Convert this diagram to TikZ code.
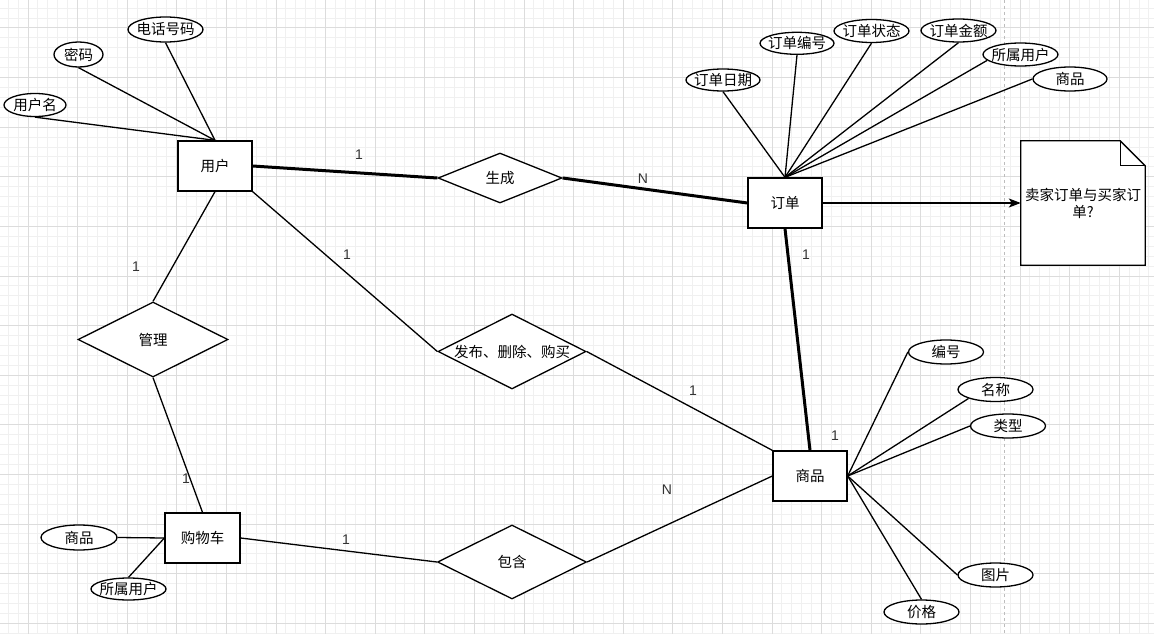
\documentclass[tikz,border=0pt]{standalone}
\usepackage{fontspec}
\setmainfont{Noto Sans CJK SC}
\newfontfamily\latinfont{Liberation Sans}
\usetikzlibrary{shapes.geometric,arrows.meta}
\definecolor{gridminor}{HTML}{F0F0F0}
\definecolor{gridmajor}{HTML}{DCDCDC}
\definecolor{pageline}{HTML}{BDBDBD}
\definecolor{lbl}{HTML}{333333}
\newcommand{\cnsize}{\fontsize{14.5pt}{17pt}\selectfont}
\begin{document}
\begin{tikzpicture}[x=1pt,y=-1pt,
  every label/.style={font=\cnsize, inner sep=0pt, text=black},
  entity/.style={draw=black, line width=1.3pt, fill=white, minimum width=74pt, minimum height=50pt, inner sep=0pt, font=\cnsize},
  attr/.style={ellipse, draw=black, line width=1.3pt, fill=white, minimum width=75pt, minimum height=24pt, inner sep=0pt},
  rel/.style={diamond, draw=black, line width=1.3pt, fill=white, inner sep=0pt},
  lnk/.style={line width=1.3pt, draw=black},
  tlnk/.style={line width=3pt, draw=black},
  card/.style={font=\latinfont\fontsize{14pt}{16pt}\selectfont, text=lbl, inner sep=0pt},
  notebox/.style={minimum width=124pt, minimum height=124pt, inner sep=0pt},
  notetext/.style={font=\cnsize, align=center, inner sep=0pt}
]
% background and bounding box
\useasboundingbox (0,0) rectangle (1154,634);
\fill[white] (0,0) rectangle (1154,634);
\foreach \i in {-2,...,113} \draw[gridminor, line width=1pt] ({28+9.92*\i},0) -- ({28+9.92*\i},634);
\foreach \i in {-2,...,61} \draw[gridminor, line width=1pt] (0,{28+9.92*\i}) -- (1154,{28+9.92*\i});
\foreach \i in {0,...,22} \draw[gridmajor, line width=1pt] ({28+49.6*\i},0) -- ({28+49.6*\i},634);
\foreach \i in {0,...,12} \draw[gridmajor, line width=1pt] (0,{28+49.6*\i}) -- (1154,{28+49.6*\i});
\draw[pageline, line width=1pt, dash pattern=on 3pt off 3pt] (1004,0) -- (1004,634);

% entities
\node[entity] (yh) at (215,166) {用户};
\node[entity] (dd) at (785,203) {订单};
\node[entity] (sp) at (810,476) {商品};
\node[entity, minimum width=75pt] (gwc) at (202.5,538) {购物车};

% relationships
\node[rel, minimum width=124pt, minimum height=50pt, label=center:生成] (sc) at (500,178) {};
\node[rel, minimum width=148pt, minimum height=75pt, label=center:发布、删除、购买] (fb) at (512,351.5) {};
\node[rel, minimum width=150pt, minimum height=75pt, label=center:管理] (gl) at (153,339.5) {};
\node[rel, minimum width=149pt, minimum height=74pt, label=center:包含] (bh) at (512,562) {};

% user attributes
\node[attr, minimum width=75pt, minimum height=25pt, label=center:电话号码] (u3) at (165.5,29.5) {};
\node[attr, minimum width=49pt, minimum height=25pt, label=center:密码] (u2) at (78.5,54.5) {};
\node[attr, minimum width=62pt, minimum height=23pt, label=center:用户名] (u1) at (35,105) {};

% order attributes
\node[attr, minimum width=74pt, minimum height=22pt, label=center:订单日期] (o1) at (723,80) {};
\node[attr, minimum width=74pt, minimum height=22pt, label=center:订单编号] (o2) at (797,43.3) {};
\node[attr, minimum width=75pt, minimum height=23pt, label=center:订单状态] (o3) at (871.5,31) {};
\node[attr, minimum width=75pt, minimum height=23pt, label=center:订单金额] (o4) at (958.5,30.5) {};
\node[attr, minimum width=75pt, minimum height=23pt, label=center:所属用户] (o5) at (1020.5,54.5) {};
\node[attr, minimum width=74pt, minimum height=24pt, label=center:商品] (o6) at (1070,79) {};

% product attributes
\node[attr, label=center:编号] (p1) at (946,352) {};
\node[attr, label=center:名称] (p2) at (995.5,389.5) {};
\node[attr, label=center:类型] (p3) at (1008,426) {};
\node[attr, label=center:图片] (p4) at (995.5,575) {};
\node[attr, label=center:价格] (p5) at (921.5,612) {};

% cart attributes
\node[attr, minimum width=76pt, minimum height=25pt, label=center:商品] (g1) at (79,537.5) {};
\node[attr, minimum width=75pt, minimum height=22pt, label=center:所属用户] (g2) at (128.5,589) {};

% note
\node[notebox] (note) at (1083,203) {};
\filldraw[fill=white, draw=black, line width=1.3pt, line join=miter]
  (note.north west) -- ([xshift=-25pt]note.north east) -- ([yshift=-25pt]note.north east)
  -- (note.south east) -- (note.south west) -- cycle;
\draw[line width=1.3pt, line join=miter] ([xshift=-25pt]note.north east) -- ([xshift=-25pt,yshift=-25pt]note.north east) -- ([yshift=-25pt]note.north east);
\node[notetext] (nt) at (note.center) {卖家订单与买家订\\单?};

% attribute connectors
\draw[lnk] (u1.south) -- (yh.north);
\draw[lnk] (u2.south) -- (yh.north);
\draw[lnk] (u3.south) -- (yh.north);
\draw[lnk] (o1.south) -- (dd.north);
\draw[lnk] (o2.south) -- (dd.north);
\draw[lnk] (o3.south) -- (dd.north);
\draw[lnk] (o4.south) -- (dd.north);
\draw[lnk] (o5.190) -- (dd.north);
\draw[lnk] (o6.west) -- (dd.north);
\draw[lnk] (p1.west) -- (sp.east);
\draw[lnk] (p2.south west) -- (sp.east);
\draw[lnk] (p3.west) -- (sp.east);
\draw[lnk] (p4.west) -- (sp.east);
\draw[lnk] (p5.north) -- (sp.east);
\draw[lnk] (g1.east) -- (gwc.west);
\draw[lnk] (g2.north) -- (gwc.west);

% relationship connectors
\draw[tlnk] (yh.east) -- (sc.west);
\draw[tlnk] (sc.east) -- (dd.west);
\draw[tlnk] (dd.south) -- (sp.north);
\draw[lnk, -{Stealth[length=12pt, width=9pt, inset=3pt]}] (dd.east) -- (note.west);
\draw[lnk] (yh.south east) -- (fb.west);
\draw[lnk] (fb.east) -- (sp.north west);
\draw[lnk] (yh.south) -- (gl.north);
\draw[lnk] (gl.south) -- (gwc.north);
\draw[lnk] (gwc.east) -- (bh.west);
\draw[lnk] (bh.east) -- (sp.west);

% cardinalities
\node[card] (c1) at (359,155) {1};
\node[card] (c2) at (643,179) {N};
\node[card] (c3) at (806,255) {1};
\node[card] (c4) at (835,436) {1};
\node[card] (c5) at (347,255) {1};
\node[card] (c6) at (693,391) {1};
\node[card] (c7) at (136,267) {1};
\node[card] (c8) at (186,479) {1};
\node[card] (c9) at (346,540) {1};
\node[card] (c10) at (667,490) {N};
\end{tikzpicture}
\end{document}
